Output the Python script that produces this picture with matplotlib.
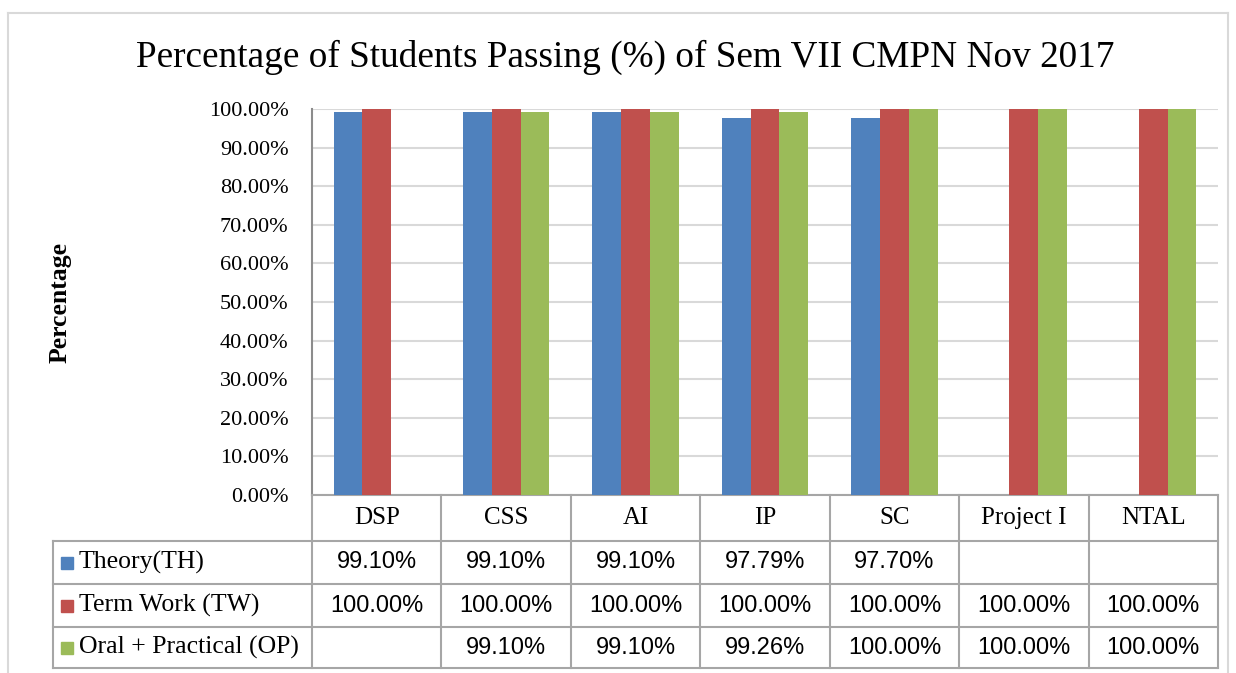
import numpy as np
import matplotlib
matplotlib.use("Agg")
import matplotlib.pyplot as plt
from matplotlib.lines import Line2D
from matplotlib.patches import Rectangle

# data (percent)
subjects = ["DSP", "CSS", "AI", "IP", "SC", "Project I", "NTAL"]
series_names = ["Theory(TH)", "Term Work (TW)", "Oral + Practical (OP)"]
theory = [99.10, 99.10, 99.10, 97.79, 97.70, None, None]
term_work = [100.00, 100.00, 100.00, 100.00, 100.00, 100.00, 100.00]
oral_practical = [None, 99.10, 99.10, 99.26, 100.00, 100.00, 100.00]
colors = ["#4F81BD", "#C0504D", "#9BBB59"]

series = [theory, term_work, oral_practical]

serif = "Liberation Serif"
W, H = 1236, 673
fig = plt.figure(figsize=(W / 100, H / 100), dpi=100)

# outer chart frame
frame_col = "#d9d9d9"
fig.add_artist(Line2D([8 / W, 8 / W], [0, 1 - 13 / H], transform=fig.transFigure, color=frame_col, lw=1.5))
fig.add_artist(Line2D([8 / W, 1228 / W], [1 - 13 / H, 1 - 13 / H], transform=fig.transFigure, color=frame_col, lw=1.5))
fig.add_artist(Line2D([1228 / W, 1228 / W], [0, 1 - 13 / H], transform=fig.transFigure, color=frame_col, lw=1.5))

left, right, top, bottom = 312, 1218, 109, 495
ax = fig.add_axes([left / W, 1 - bottom / H, (right - left) / W, (bottom - top) / H])

x = np.arange(len(subjects))
bw = 1 / 4.5
for i, (vals, c) in enumerate(zip(series, colors)):
    v = [np.nan if a is None else a for a in vals]
    ax.bar(x + (i - 1) * bw, v, width=bw, color=c, zorder=3)

ax.set_xlim(-0.5, len(subjects) - 0.5)
ax.set_ylim(0, 100)
ax.set_yticks(np.arange(0, 101, 10))
ax.set_yticklabels([f"{t:.2f}%" for t in np.arange(0, 101, 10)], fontfamily=serif, fontsize=16)
ax.tick_params(axis="y", length=0, pad=17)
ax.set_xticks([])
ax.grid(axis="y", color="#d9d9d9", lw=1.5, zorder=0)
for s in ["top", "right"]:
    ax.spines[s].set_visible(False)
line_col = "#a6a6a6"
ax.spines["left"].set_color("#8c8c8c")
ax.spines["left"].set_linewidth(1.5)
ax.spines["bottom"].set_color(line_col)
ax.spines["bottom"].set_linewidth(1.5)

fig.text(625 / W, 1 - 57 / H, "Percentage of Students Passing (%) of Sem VII CMPN Nov 2017",
         ha="center", va="center", fontfamily=serif, fontsize=26.8)
fig.text(60 / W, 1 - 303 / H, "Percentage", rotation=90, ha="center", va="center",
         fontfamily=serif, fontsize=18.5, fontweight="bold")

# data table under the plot: x in data units, y in axes fraction
tr = ax.get_xaxis_transform()
ph = bottom - top
colw = (right - left) / len(subjects)
row_edges = [0, -46 / ph, -89 / ph, -132 / ph, -173 / ph]
x_leg = -0.5 - (left - 53) / colw
xr = len(subjects) - 0.5

def hline(x0, x1, y):
    ax.add_line(Line2D([x0, x1], [y, y], transform=tr, color=line_col, lw=1.5, clip_on=False))

def vline(xx, y0, y1):
    ax.add_line(Line2D([xx, xx], [y0, y1], transform=tr, color=line_col, lw=1.5, clip_on=False))

for y in row_edges[1:]:
    hline(x_leg, xr, y)
for k in range(len(subjects) + 1):
    vline(k - 0.5, row_edges[0], row_edges[-1])
vline(x_leg, row_edges[1], row_edges[-1])

yc = (row_edges[0] + row_edges[1]) / 2
for i, s in enumerate(subjects):
    ax.text(i, yc, s, transform=tr, ha="center", va="center", fontfamily=serif, fontsize=18)

for r, (name, vals, c) in enumerate(zip(series_names, series, colors)):
    yc = (row_edges[r + 1] + row_edges[r + 2]) / 2
    sq = 12 / ph
    ax.add_patch(Rectangle((x_leg + 8 / colw, yc - sq / 2), 12 / colw, sq, transform=tr,
                           color=c, clip_on=False))
    ax.text(x_leg + 26 / colw, yc, name, transform=tr, ha="left", va="center",
            fontfamily=serif, fontsize=18.5)
    for i, v in enumerate(vals):
        if v is not None:
            ax.text(i, yc, f"{v:.2f}%", transform=tr, ha="center", va="center",
                    fontfamily="Liberation Sans", fontsize=17)

fig.savefig("out.png", dpi=100)
